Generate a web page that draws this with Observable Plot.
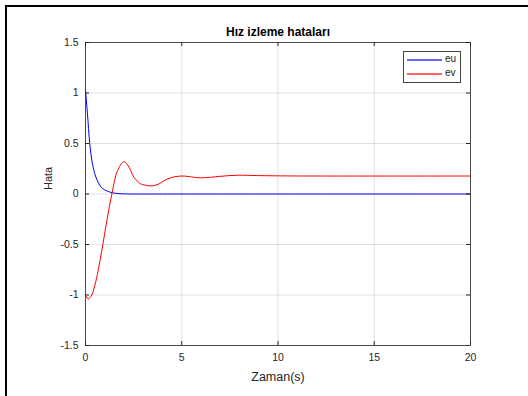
<!DOCTYPE html>
<html>
<head>
<meta charset="utf-8">
<script src="https://cdn.jsdelivr.net/npm/d3@7"></script>
<script src="https://cdn.jsdelivr.net/npm/@observablehq/plot@0.6"></script>
<style>
  html, body { margin: 0; padding: 0; background: #fff; overflow: hidden; }
  #wrap { position: relative; width: 528px; height: 396px; font-family: "Liberation Sans", Arial, sans-serif; }
  #frame { position: absolute; left: 5px; top: 5px; width: 600px; height: 500px;
           border-left: 2px solid #000; border-top: 2px solid #000; pointer-events: none; }
  #legend { position: absolute; left: 403px; top: 51px;
            border: 1px solid #444; background: #fff; box-sizing: border-box; width: 58px; height: 32px; }
  .lg-row { position: absolute; left: 3px; height: 12px; width: 54px; }
  .lg-line { position: absolute; left: 0; top: 5px; width: 35px; height: 2px; opacity: 0.6; }
  .lg-text { position: absolute; left: 38px; top: -1px; font-size: 10px; line-height: 12px; color: #262626; }
</style>
</head>
<body>
<div id="wrap"><div id="frame"></div><div id="legend"></div></div>
<script>
const title = "Hız izleme hataları";
const xLabel = "Zaman(s)";
const yLabel = "Hata";
const xTicks = [0, 5, 10, 15, 20];
const yTicks = [-1.5, -1, -0.5, 0, 0.5, 1, 1.5];
const seriesNames = ["eu", "ev"];
const seriesColors = ["#0000ff", "#ff0000"];

const euT = [0, 0.1, 0.22, 0.36, 0.5, 0.62, 0.79, 1.0, 1.14, 1.4, 1.8, 2.5, 4, 20];
const euV = [1.03, 0.8, 0.5, 0.3, 0.19, 0.13, 0.072, 0.04, 0.028, 0.012, 0.003, 0.0, 0, 0];

const evT = [0, 0.14, 0.33, 0.45, 0.62, 0.9, 1.14, 1.37, 1.66, 2.0, 2.26, 2.52, 2.87, 3.04, 3.39, 3.82, 4.25, 4.95, 5.98, 7.0, 7.9, 9.0, 10.5, 12, 20];
const evV = [-1.0, -1.04, -1.0, -0.93, -0.795, -0.5, -0.23, 0, 0.23, 0.32, 0.265, 0.165, 0.10, 0.09, 0.08, 0.10, 0.149, 0.178, 0.16, 0.175, 0.186, 0.182, 0.179, 0.178, 0.178];

const eu = euT.map((t, i) => ({t, v: euV[i]}));
const ev = evT.map((t, i) => ({t, v: evV[i]}));

const W = 528, H = 396, ML = 85, MR = 58, MT = 42, MB = 51;
const PW = W - ML - MR, PH = H - MT - MB;
const tick = 4;
const ink = "#262626";

const plot = Plot.plot({
  width: W, height: H,
  marginLeft: ML, marginRight: MR, marginTop: MT, marginBottom: MB,
  style: {fontFamily: '"Liberation Sans", Arial, sans-serif', background: "transparent"},
  x: {domain: [0, 20], ticks: xTicks},
  y: {domain: [-1.5, 1.5], ticks: yTicks},
  marks: [
    Plot.gridX(xTicks, {stroke: "#000", strokeOpacity: 0.12}),
    Plot.gridY(yTicks, {stroke: "#000", strokeOpacity: 0.12}),
    Plot.line(eu, {x: "t", y: "v", stroke: seriesColors[0], strokeWidth: 1, curve: "catmull-rom"}),
    Plot.line(ev, {x: "t", y: "v", stroke: seriesColors[1], strokeWidth: 1, curve: "catmull-rom"}),
    Plot.frame({stroke: ink, strokeWidth: 0.8}),
    Plot.tickX(xTicks, {x: d => d, stroke: ink, insetTop: PH - tick}),
    Plot.tickX(xTicks, {x: d => d, stroke: ink, insetBottom: PH - tick}),
    Plot.tickY(yTicks, {y: d => d, stroke: ink, insetRight: PW - tick}),
    Plot.tickY(yTicks, {y: d => d, stroke: ink, insetLeft: PW - tick}),
    Plot.axisX(xTicks, {tickSize: 0, tickPadding: 8, tickFormat: d => String(d), label: null, fontSize: 10.5, fill: ink}),
    Plot.axisY(yTicks, {tickSize: 0, tickPadding: 7, tickFormat: d => String(d), label: null, fontSize: 10.5, fill: ink}),
    Plot.text([xLabel], {frameAnchor: "bottom", lineAnchor: "middle", dy: 31, fontSize: 12.5, fill: ink}),
    Plot.text([yLabel], {frameAnchor: "left", dx: -37, dy: -4, rotate: -90, fontSize: 11, fill: ink}),
    Plot.text([title], {frameAnchor: "top", lineAnchor: "middle", dy: -10, fontSize: 12, fontWeight: "bold", fill: "#000"})
  ]
});

document.getElementById("wrap").prepend(plot);

// legend (HTML overlay)
const legend = document.getElementById("legend");
seriesNames.forEach((name, i) => {
  const row = document.createElement("div");
  row.className = "lg-row";
  row.style.top = (2 + i * 14) + "px";
  const ln = document.createElement("div");
  ln.className = "lg-line";
  ln.style.background = seriesColors[i];
  const tx = document.createElement("div");
  tx.className = "lg-text";
  tx.textContent = name;
  row.appendChild(ln);
  row.appendChild(tx);
  legend.appendChild(row);
});
</script>
</body>
</html>
